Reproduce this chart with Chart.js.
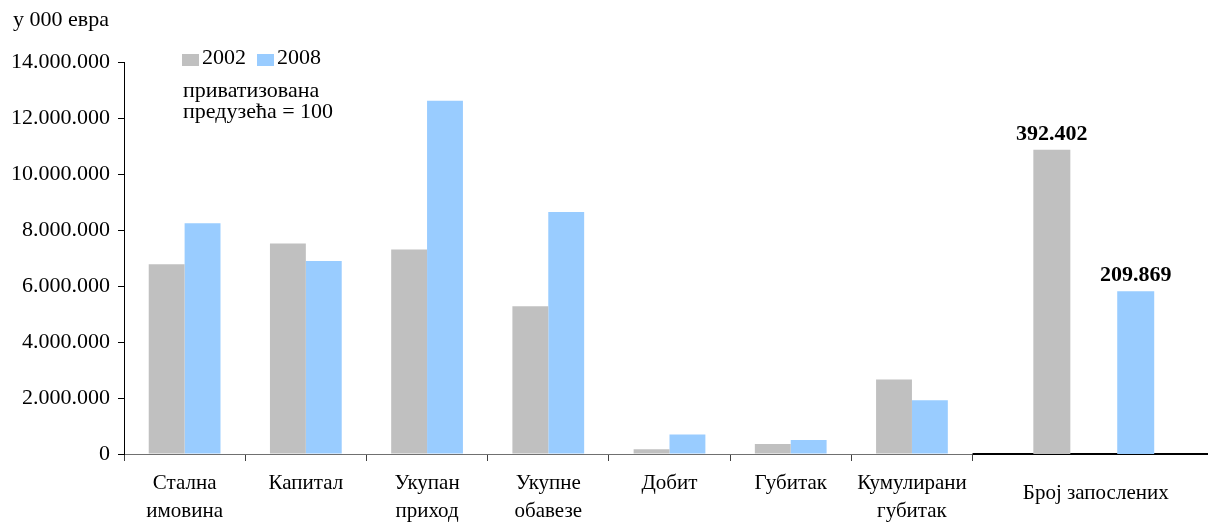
<!DOCTYPE html>
<html>
<head>
<meta charset="utf-8">
<script src="https://cdn.jsdelivr.net/npm/chart.js@4"></script>
<style>
  html, body { margin: 0; padding: 0; overflow: hidden; background: #fff; }
  #wrap { position: relative; width: 1216px; height: 522px; }
  #wrap canvas { position: absolute; left: 0; top: 0; }
</style>
</head>
<body>
<div id="wrap">
  <canvas id="main" width="1216" height="522"></canvas>
  <canvas id="staff" width="1216" height="522"></canvas>
</div>
<script>
// Balance-sheet items of privatized enterprises, thousands of euros
const CATEGORIES = [
  ['Стална', 'имовина'],
  ['Капитал'],
  ['Укупан', 'приход'],
  ['Укупне', 'обавезе'],
  ['Добит'],
  ['Губитак'],
  ['Кумулирани', 'губитак']
];
const YEARS = ['2002', '2008'];
const VALUES_2002 = [6775000, 7515000, 7300000, 5275000, 168000, 357000, 2657000];
const VALUES_2008 = [8240000, 6893000, 12620000, 8640000, 700000, 500000, 1918000];

// Employee headcount, drawn against its own value scale
const EMPLOYEE_LABEL = 'Број запослених';
const EMPLOYEES = [392402, 209869];
const EMPLOYEE_AXIS_MAX = 505500;

const Y_TICKS = [0, 2000000, 4000000, 6000000, 8000000, 10000000, 12000000, 14000000];
const UNIT_LABEL = 'у 000 евра';
const NOTE_LINES = ['приватизована', 'предузећа = 100'];

const COLORS = ['#C0C0C0', '#99CCFF'];
const FAMILY = '"Liberation Serif", "Times New Roman", serif';

const fmt = v => String(v).replace(/\B(?=(\d{3})+(?!\d))/g, '.');

// Main category axis: seven items plus two slots for the headcount block
const X_LABELS = [...CATEGORIES, '', ''];
// Headcount layer: boundary-aligned axis, index i sits on slot boundary i
const STAFF_LABELS = Array.from({ length: X_LABELS.length + 1 }, () => '');
STAFF_LABELS[CATEGORIES.length + 1] = EMPLOYEE_LABEL;

const captions = {
  id: 'captions',
  afterDraw(chart) {
    const { ctx } = chart;
    ctx.save();
    ctx.fillStyle = '#000';
    ctx.font = '22px ' + FAMILY;
    ctx.textAlign = 'left';
    ctx.textBaseline = 'alphabetic';
    ctx.fillText(UNIT_LABEL, 13, 26);

    // legend
    let lx = 182;
    chart.data.datasets.forEach(ds => {
      ctx.fillStyle = ds.backgroundColor;
      ctx.fillRect(lx, 54, 17, 12);
      ctx.fillStyle = '#000';
      ctx.fillText(ds.label, lx + 20, 64);
      lx += 20 + ctx.measureText(ds.label).width + 11;
    });

    NOTE_LINES.forEach((t, i) => ctx.fillText(t, 183, 97 + i * 21));
    ctx.restore();
  }
};

const main = new Chart(document.getElementById('main'), {
  type: 'bar',
  data: {
    labels: X_LABELS,
    datasets: [
      { label: YEARS[0], data: VALUES_2002, backgroundColor: COLORS[0], categoryPercentage: 0.592, barPercentage: 1 },
      { label: YEARS[1], data: VALUES_2008, backgroundColor: COLORS[1], categoryPercentage: 0.592, barPercentage: 1 }
    ]
  },
  options: {
    responsive: false,
    animation: false,
    events: [],
    layout: { padding: { top: 62, right: 1, bottom: 0, left: 0 } },
    plugins: { legend: { display: false }, tooltip: { enabled: false } },
    scales: {
      x: {
        offset: true,
        grid: {
          offset: true,
          drawOnChartArea: false,
          tickLength: 7,
          tickColor: c => (c.index !== undefined && c.index <= CATEGORIES.length ? '#404040' : 'rgba(0,0,0,0)')
        },
        border: { color: '#707070', width: 1 },
        ticks: {
          color: '#000',
          font: { family: FAMILY, size: 21, lineHeight: 1.333 },
          padding: 8,
          maxRotation: 0,
          minRotation: 0,
          autoSkip: false
        },
        afterFit: s => { s.height = 68; }
      },
      y: {
        min: 0,
        max: Y_TICKS[Y_TICKS.length - 1],
        afterBuildTicks: s => { s.ticks = Y_TICKS.map(v => ({ value: v })); },
        grid: { drawOnChartArea: false, tickLength: 6, tickColor: '#000' },
        border: { color: '#000', width: 1 },
        ticks: { color: '#000', font: { family: FAMILY, size: 22 }, padding: 8, callback: v => fmt(v) },
        afterFit: s => { s.width = 124; }
      }
    }
  },
  plugins: [captions]
});

// Headcount layer shares the plot area of the main chart
const area = main.chartArea;
const staffMarks = {
  id: 'staffMarks',
  beforeDatasetsDraw(chart) {
    const { ctx, chartArea, scales } = chart;
    ctx.save();
    ctx.strokeStyle = '#000';
    ctx.lineWidth = 2;
    ctx.beginPath();
    ctx.moveTo(scales.x.getPixelForValue(CATEGORIES.length), chartArea.bottom);
    ctx.lineTo(chartArea.right, chartArea.bottom);
    ctx.stroke();
    ctx.restore();
  },
  afterDraw(chart) {
    const { ctx, chartArea, scales } = chart;
    ctx.save();
    ctx.fillStyle = '#000';
    ctx.textAlign = 'center';
    ctx.font = '21px ' + FAMILY;
    ctx.textBaseline = 'middle';
    ctx.fillText(EMPLOYEE_LABEL, scales.x.getPixelForValue(CATEGORIES.length + 1) + 2, chartArea.bottom + 39);

    ctx.font = 'bold 22px ' + FAMILY;
    ctx.textBaseline = 'alphabetic';
    chart.data.datasets.forEach((ds, i) => {
      const bar = chart.getDatasetMeta(i).data[0];
      ctx.fillText(fmt(ds.data[0].y), bar.x, bar.y - 10);
    });
    ctx.restore();
  }
};

new Chart(document.getElementById('staff'), {
  type: 'bar',
  data: {
    labels: STAFF_LABELS,
    datasets: YEARS.map((yr, i) => ({
      label: yr,
      data: [{ x: EMPLOYEE_LABEL, y: EMPLOYEES[i] }],
      backgroundColor: COLORS[i],
      categoryPercentage: 1.384,
      barPercentage: 0.441
    }))
  },
  options: {
    responsive: false,
    animation: false,
    events: [],
    layout: {
      padding: {
        left: area.left,
        top: area.top,
        right: main.width - area.right,
        bottom: main.height - area.bottom
      }
    },
    plugins: { legend: { display: false }, tooltip: { enabled: false } },
    scales: {
      x: { type: 'category', offset: false, display: false, ticks: { autoSkip: false } },
      y: { display: false, min: 0, max: EMPLOYEE_AXIS_MAX }
    }
  },
  plugins: [staffMarks]
});
</script>
</body>
</html>
